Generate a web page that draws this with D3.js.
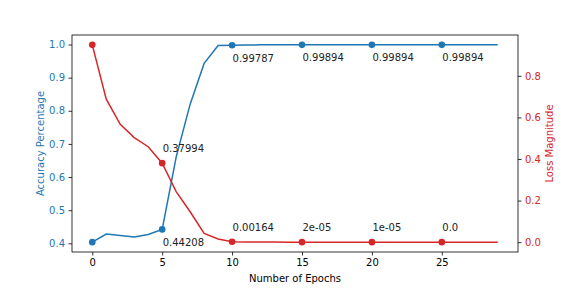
<!DOCTYPE html>
<html>
<head>
<meta charset="utf-8">
<script src="https://cdn.jsdelivr.net/npm/d3@7"></script>
<style>
body { margin: 0; background: #fff; }
text { font-family: "DejaVu Sans", sans-serif; }
</style>
</head>
<body>
<div id="chart"></div>
<script>
// epochs 0..29
var epochs = d3.range(0, 30);
var accuracy = [0.4036, 0.428, 0.4235, 0.419, 0.4265, 0.44208, 0.66, 0.82, 0.943, 0.997,
    0.99787, 0.9986, 0.99894, 0.99894, 0.99894, 0.99894, 0.99894, 0.99894, 0.99894, 0.99894,
    0.99894, 0.99894, 0.99894, 0.99894, 0.99894, 0.99894, 0.99894, 0.99894, 0.99894, 0.99894];
var loss = [0.949, 0.6875, 0.567, 0.503, 0.459, 0.37994, 0.243, 0.146, 0.042, 0.015,
    0.00164, 0.0006, 0.0002, 0.0001, 0.00005, 0.00002, 0.00002, 0.00001, 0.00001, 0.00001,
    0.00001, 0.00001, 0.0, 0.0, 0.0, 0.0, 0.0, 0.0, 0.0, 0.0];
var markEpochs = [0, 5, 10, 15, 20, 25];
var accLabels = ["", "0.44208", "0.99787", "0.99894", "0.99894", "0.99894"];
var lossLabels = ["", "0.37994", "0.00164", "2e-05", "1e-05", "0.0"];
var xTicks = [0, 5, 10, 15, 20, 25];
var accTicks = [0.4, 0.5, 0.6, 0.7, 0.8, 0.9, 1.0];
var lossTicks = [0.0, 0.2, 0.4, 0.6, 0.8];

var blue = "#1f77b4", red = "#d62728";

var W = 576, H = 288;
var margin = {top: 35, right: 58, bottom: 36, left: 72},
    width = W - margin.left - margin.right,
    height = H - margin.top - margin.bottom;

// matplotlib style 5% padding
function pad(ext) { var p = (ext[1] - ext[0]) * 0.05; return [ext[0] - p, ext[1] + p]; }

var x = d3.scaleLinear().domain(pad([0, 29])).range([0, width]);
var yAcc = d3.scaleLinear().domain(pad(d3.extent(accuracy))).range([height, 0]);
var yLoss = d3.scaleLinear().domain(pad(d3.extent(loss))).range([height, 0]);

var svg = d3.select("#chart").append("svg")
    .attr("width", W)
    .attr("height", H)
    .append("g")
    .attr("transform", "translate(" + margin.left + "," + margin.top + ")");

function styleAxis(g, color) {
    g.select(".domain").remove();
    g.selectAll(".tick line").attr("stroke", "#000").attr("stroke-width", 0.8);
    g.selectAll(".tick text").attr("fill", color).style("font-size", "10px")
        .style("font-family", "DejaVu Sans, sans-serif");
}

svg.append("g")
    .attr("transform", "translate(0," + height + ")")
    .call(d3.axisBottom(x).tickValues(xTicks).tickSize(3.5).tickPadding(3.5).tickFormat(d3.format("d")))
    .call(styleAxis, "#000");

svg.append("g")
    .call(d3.axisLeft(yAcc).tickValues(accTicks).tickSize(3.5).tickPadding(3.5).tickFormat(d3.format(".1f")))
    .call(styleAxis, blue);

svg.append("g")
    .attr("transform", "translate(" + width + ",0)")
    .call(d3.axisRight(yLoss).tickValues(lossTicks).tickSize(3.5).tickPadding(3.5).tickFormat(d3.format(".1f")))
    .call(styleAxis, red);

var accLine = d3.line()
    .x(function(d, i) { return x(epochs[i]); })
    .y(function(d) { return yAcc(d); });
var lossLine = d3.line()
    .x(function(d, i) { return x(epochs[i]); })
    .y(function(d) { return yLoss(d); });

// accuracy (first axes)
svg.append("path")
    .datum(accuracy)
    .attr("d", accLine)
    .attr("fill", "none")
    .attr("stroke", blue)
    .attr("stroke-width", 1.5);

svg.selectAll(".accdot")
    .data(markEpochs)
    .enter().append("circle")
    .attr("class", "accdot")
    .attr("r", 3.3)
    .attr("cx", function(d) { return x(d); })
    .attr("cy", function(d) { return yAcc(accuracy[d]); })
    .style("fill", blue);

svg.selectAll(".acclabel")
    .data(markEpochs)
    .enter().append("text")
    .attr("class", "acclabel")
    .attr("x", function(d) { return x(d) + 0.5; })
    .attr("y", function(d) { return yAcc(accuracy[d]) + 16.5; })
    .style("font-size", "10px")
    .attr("fill", "#222")
    .text(function(d, i) { return accLabels[i]; });

// loss (twin axes)
svg.append("path")
    .datum(loss)
    .attr("d", lossLine)
    .attr("fill", "none")
    .attr("stroke", red)
    .attr("stroke-width", 1.5);

svg.selectAll(".lossdot")
    .data(markEpochs)
    .enter().append("circle")
    .attr("class", "lossdot")
    .attr("r", 3.3)
    .attr("cx", function(d) { return x(d); })
    .attr("cy", function(d) { return yLoss(loss[d]); })
    .style("fill", red);

svg.selectAll(".losslabel")
    .data(markEpochs)
    .enter().append("text")
    .attr("class", "losslabel")
    .attr("x", function(d) { return x(d) + 0.5; })
    .attr("y", function(d) { return yLoss(loss[d]) - 11; })
    .style("font-size", "10px")
    .attr("fill", "#222")
    .text(function(d, i) { return lossLabels[i]; });

// frame
svg.append("rect")
    .attr("width", width)
    .attr("height", height)
    .attr("fill", "none")
    .attr("stroke", "#000")
    .attr("stroke-width", 0.8);

// axis titles
svg.append("text")
    .attr("x", width / 2)
    .attr("y", height + 29.5)
    .attr("text-anchor", "middle")
    .style("font-size", "10px")
    .text("Number of Epochs");

svg.append("text")
    .attr("transform", "translate(-28," + (height / 2) + ") rotate(-90)")
    .attr("text-anchor", "middle")
    .style("font-size", "10px")
    .attr("fill", blue)
    .text("Accuracy Percentage");

svg.append("text")
    .attr("transform", "translate(" + (width + 34.5) + "," + (height / 2) + ") rotate(-90)")
    .attr("text-anchor", "middle")
    .style("font-size", "10px")
    .attr("fill", red)
    .text("Loss Magnitude");
</script>
</body>
</html>
